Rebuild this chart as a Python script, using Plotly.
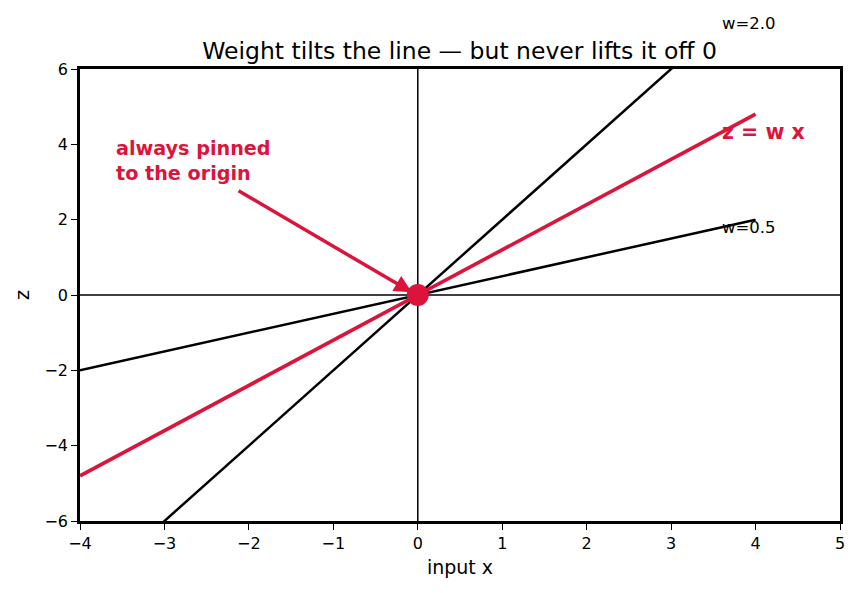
import plotly.graph_objects as go

weights = [2.0, 1.2, 0.5]
line_colors = ["black", "crimson", "black"]
line_widths = [2.5, 3.6, 2.5]
labels = ["w=2.0", "z = w x", "w=0.5"]
x_span = [-4, 4]
label_x = 3.6
x_ticks = [-4, -3, -2, -1, 0, 1, 2, 3, 4, 5]
y_ticks = [-6, -4, -2, 0, 2, 4, 6]
x_range = [-4, 5]
y_range = [-6, 6]

fig = go.Figure()
for w, c, lw in zip(weights, line_colors, line_widths):
    fig.add_trace(go.Scatter(x=x_span, y=[w * x_span[0], w * x_span[1]], mode="lines",
                             line=dict(color=c, width=lw), showlegend=False, hoverinfo="skip"))

# axes through origin
fig.add_shape(type="line", x0=0, x1=0, y0=y_range[0], y1=y_range[1], xref="x", yref="y",
              line=dict(color="black", width=1.5), layer="below")
fig.add_shape(type="line", x0=x_range[0], x1=x_range[1], y0=0, y1=0, xref="x", yref="y",
              line=dict(color="black", width=1.5), layer="below")

fig.add_trace(go.Scatter(x=[0], y=[0], mode="markers", marker=dict(color="crimson", size=22),
                         showlegend=False, hoverinfo="skip", cliponaxis=False))

for w, lab in zip(weights, labels):
    red = lab.startswith("z")
    yp = (w * label_x - y_range[0]) / (y_range[1] - y_range[0])
    fig.add_annotation(x=label_x, y=yp, yref="paper", text=f"<b>{lab}</b>" if red else lab, showarrow=False,
                       xanchor="left", yanchor="middle", xshift=-2,
                       font=dict(family="DejaVu Sans", size=20.5 if red else 16.5,
                                 color="crimson" if red else "black"))

fig.add_annotation(x=-3.6, y=2.88, text="<b>always pinned<br>to the origin</b>", showarrow=False,
                   xanchor="left", yanchor="bottom", align="left",
                   font=dict(family="DejaVu Sans", size=19.2, color="crimson"))
fig.add_annotation(x=-0.07, y=0.07, ax=-2.14, ay=2.79, axref="x", ayref="y", xref="x", yref="y",
                   text="", showarrow=True, arrowhead=2, arrowsize=1, arrowwidth=3.5, arrowcolor="crimson",
                   standoff=0)

fig.update_layout(
    width=859, height=593, plot_bgcolor="white", paper_bgcolor="white",
    margin=dict(l=80, r=19, t=69, b=72),
    title=dict(text="Weight tilts the line — but never lifts it off 0", x=0.535, xanchor="center",
               y=0.915, yanchor="middle",
               font=dict(family="DejaVu Sans", size=23.5, color="black")),
    font=dict(family="DejaVu Sans", size=16, color="black"),
    xaxis=dict(range=x_range, tickvals=x_ticks, showgrid=False, zeroline=False, showline=True, mirror=True,
               linecolor="black", linewidth=2.5, ticks="outside", ticklen=6, tickwidth=1.3, tickcolor="black",
               tickfont=dict(size=16),
               title=dict(text="input x", font=dict(size=19), standoff=9)),
    yaxis=dict(range=y_range, tickvals=y_ticks, showgrid=False, zeroline=False, showline=True, mirror=True,
               linecolor="black", linewidth=2.5, ticks="outside", ticklen=6, tickwidth=1.3, tickcolor="black",
               tickfont=dict(size=16),
               title=dict(text="z", font=dict(size=19), standoff=10)),
)
fig.write_html("out.html")
